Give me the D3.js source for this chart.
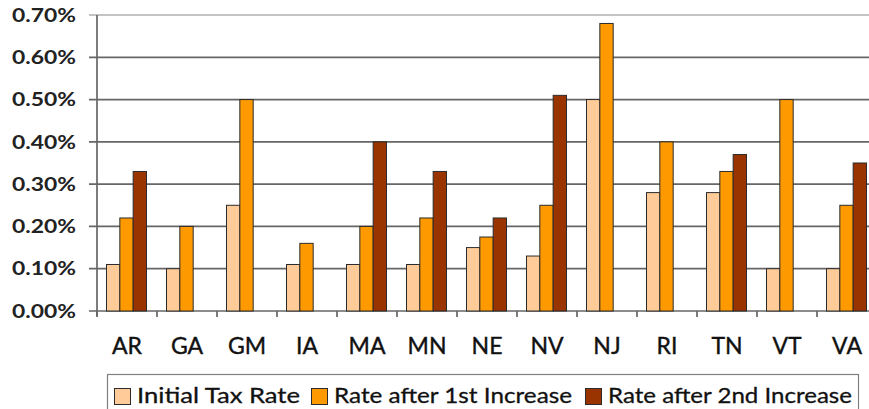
<!DOCTYPE html>
<html>
<head>
<meta charset="utf-8">
<script src="https://cdn.jsdelivr.net/npm/d3@7"></script>
<style>
  body { margin: 0; background: #fff; }
  svg { display: block; }
</style>
</head>
<body>
<script>
// tax rate chart

var states = ["AR", "GA", "GM", "IA", "MA", "MN", "NE", "NV", "NJ", "RI", "TN", "VT", "VA"];
var seriesNames = ["Initial Tax Rate", "Rate after 1st Increase", "Rate after 2nd Increase"];
var initialRate = [0.11, 0.10, 0.25, 0.11, 0.11, 0.11, 0.15, 0.13, 0.50, 0.28, 0.28, 0.10, 0.10];
var firstIncrease = [0.22, 0.20, 0.50, 0.16, 0.20, 0.22, 0.175, 0.25, 0.68, 0.40, 0.33, 0.50, 0.25];
var secondIncrease = [0.33, null, null, null, 0.40, 0.33, 0.22, 0.51, null, null, 0.37, null, 0.35];
var yTicks = [0, 0.1, 0.2, 0.3, 0.4, 0.5, 0.6, 0.7];
var colors = ["#FFCC99", "#FF9900", "#993300"];

function show_chart(width, height) {
    var svg = d3.select("body").append("svg")
                .attr("width", width)
                .attr("height", height);

    var left = 97, right = 877, top = 15, bottom = 311;
    var allSeries = [initialRate, firstIncrease, secondIncrease];

    var x0 = d3.scaleBand().domain(states).range([left, right]);
    var x1 = d3.scaleBand().domain(seriesNames)
               .range([x0.bandwidth() / 6 - 0.5, x0.bandwidth() * 5 / 6 - 0.5]);
    var y = d3.scaleLinear().domain([0, 0.7]).range([bottom, top]);

    // gridlines
    svg.append("g").selectAll("line")
        .data(yTicks)
        .enter().append("line")
        .attr("x1", left - 8)
        .attr("x2", width)
        .attr("y1", function(d) { return y(d); })
        .attr("y2", function(d) { return y(d); })
        .attr("stroke", function(d) { return d === 0.7 ? "#b0b0b0" : "#666"; })
        .attr("stroke-width", 1.7);

    // y axis line
    svg.append("line")
        .attr("x1", left).attr("x2", left)
        .attr("y1", top).attr("y2", bottom + 5)
        .attr("stroke", "#666").attr("stroke-width", 1.7);

    // x ticks at band edges
    var edges = states.map(function(s) { return x0(s); }).concat([right]);
    svg.append("g").selectAll("line")
        .data(edges)
        .enter().append("line")
        .attr("x1", function(d) { return d; })
        .attr("x2", function(d) { return d; })
        .attr("y1", bottom)
        .attr("y2", bottom + 6)
        .attr("stroke", "#666").attr("stroke-width", 1.7);

    // y labels
    svg.append("g").selectAll("text")
        .data(yTicks)
        .enter().append("text")
        .text(function(d) { return d3.format(".2%")(d / 100); })
        .attr("x", 76)
        .attr("y", function(d) { return y(d); })
        .attr("dy", "0.35em")
        .attr("text-anchor", "end")
        .attr("textLength", 64)
        .attr("lengthAdjust", "spacingAndGlyphs")
        .attr("font-family", "Lato, sans-serif")
        .attr("font-weight", "bold")
        .attr("font-size", "19px")
        .attr("fill", "#222");

    // bars
    allSeries.forEach(function(vals, i) {
        svg.append("g").selectAll("rect")
            .data(states.map(function(s, j) { return { state: s, v: vals[j] }; })
                        .filter(function(d) { return d.v != null; }))
            .enter().append("rect")
            .attr("x", function(d) { return x0(d.state) + x1(seriesNames[i]); })
            .attr("y", function(d) { return y(d.v); })
            .attr("width", x1.bandwidth())
            .attr("height", function(d) { return y(0) - y(d.v); })
            .attr("fill", colors[i])
            .attr("stroke", "#2b2b2b")
            .attr("stroke-width", 1);
    });

    // x labels
    svg.append("g").selectAll("text")
        .data(states)
        .enter().append("text")
        .text(function(d) { return d; })
        .attr("x", function(d) { return x0(d) + x0.bandwidth() / 2; })
        .attr("y", 354)
        .attr("text-anchor", "middle")
        .attr("font-family", "Lato, sans-serif")
        .attr("font-size", "23px")
        .attr("stroke", "#111")
        .attr("stroke-width", 0.4)
        .attr("fill", "#111");

    // legend
    var legend = svg.append("g");
    legend.append("rect")
        .attr("x", 107.5).attr("y", 374.5)
        .attr("width", 751).attr("height", 42)
        .attr("fill", "none")
        .attr("stroke", "#808080").attr("stroke-width", 1.2);

    var swatchX = [114, 311, 585];
    var textW = [163, 238, 244];
    seriesNames.forEach(function(name, i) {
        legend.append("rect")
            .attr("x", swatchX[i] + 0.5).attr("y", 388.5)
            .attr("width", 16).attr("height", 16)
            .attr("fill", colors[i])
            .attr("stroke", "#2b2b2b").attr("stroke-width", 1);
        legend.append("text")
            .text(name)
            .attr("x", swatchX[i] + 23)
            .attr("y", 403)
            .attr("textLength", textW[i])
            .attr("lengthAdjust", "spacingAndGlyphs")
            .attr("font-family", "Lato, sans-serif")
            .attr("font-size", "22px")
            .attr("stroke", "#111")
            .attr("stroke-width", 0.3)
            .attr("fill", "#111");
    });
}

var width = 869;
var height = 409;

document.addEventListener("DOMContentLoaded", show_chart(width, height));
</script>
</body>
</html>
